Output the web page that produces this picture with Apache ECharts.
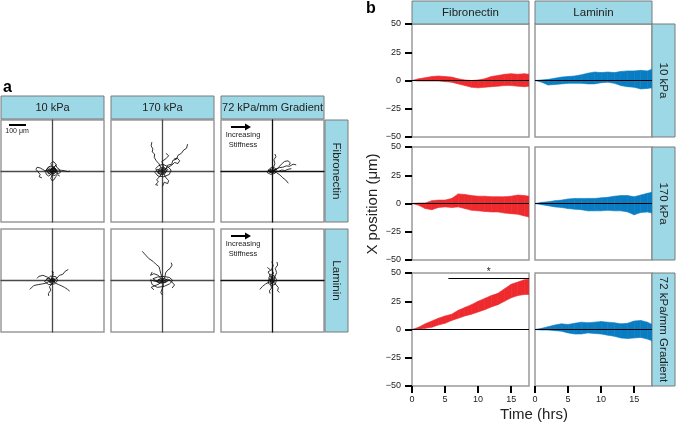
<!DOCTYPE html>
<html>
<head>
<meta charset="utf-8">
<script src="https://cdn.jsdelivr.net/npm/echarts@6.0.0/dist/echarts.min.js"></script>
<style>
  html, body { margin: 0; padding: 0; background: #fff; }
  #chart { width: 676px; height: 426px; }
</style>
</head>
<body>
<div id="chart"></div>
<script>
  // ---- panel a: cell tracks, x/y displacement in µm ----
  const tracksFn10 = [
    [[0,0],[12,8],[-6,15],[-20,5],[-8,-10],[10,-14],[24,-4],[18,12],[0,20],[-14,-2],[4,-6],[30,6],[40,-2],[52,4],[70,2],[90,-4],[102,0]],
    [[0,0],[-16,-4],[-28,6],[-44,2],[-58,10],[-72,18],[-90,22],[-96,10],[-86,-4],[-72,-20],[-78,-34],[-62,-40]],
    [[0,0],[8,18],[-4,30],[-10,44],[2,56],[14,48],[22,36],[10,24]],
    [[0,0],[6,-16],[-4,-28],[-10,-44],[-2,-58],[10,-50],[18,-34],[30,-22],[42,-30]],
    [[0,0],[-20,14],[-30,-2],[-12,-22],[16,-26],[30,-10],[22,10],[6,26],[-18,24],[-34,10],[-24,-16],[0,-6],[20,2],[14,16],[-8,8]],
    [[4,2],[18,-8],[34,-16],[46,-8],[40,10],[26,20],[36,30],[20,36],[4,12],[-8,-18],[-22,-30],[-36,-20],[-40,-4],[-28,20],[-12,30]],
    [[0,0],[10,-8],[18,4],[6,12],[-10,6],[-14,-8],[0,-16],[16,-10],[22,6],[8,18],[-8,14],[-20,0],[-6,-6],[12,0],[4,8],[-4,-2]]
  ];
  const tracksFn170 = [
    [[0,0],[-10,20],[-20,42],[-36,60],[-48,80],[-46,100],[-60,112],[-56,130],[-66,148],[-62,170]],
    [[0,0],[20,12],[30,34],[54,40],[60,62],[82,70],[90,92],[110,104],[124,124],[140,134],[146,158]],
    [[0,0],[30,20],[56,36],[70,50],[90,44],[100,60],[86,76],[66,70]],
    [[0,0],[-6,-20],[-20,-36],[-34,-52],[-24,-64],[-40,-80],[-26,-84]],
    [[0,0],[-30,10],[-44,-8],[-26,-30],[8,-34],[40,-20],[50,6],[30,26],[2,40],[-24,30],[-40,14],[-20,-14],[14,-10],[30,8],[10,20],[-10,6]],
    [[0,0],[20,-40],[36,-56],[30,-74],[10,-66],[0,-90]],
    [[0,0],[6,30],[-4,56],[20,72],[36,90],[20,104]],
    [[0,0],[-16,-8],[-24,8],[-8,20],[14,16],[24,0],[12,-18],[-8,-22],[-28,-12],[-20,4],[0,10],[16,2],[6,-10],[-10,-4]]
  ];
  const tracksFnGrad = [
    [[0,0],[20,10],[40,20],[60,22],[80,30],[100,28],[120,40],[138,36]],
    [[0,0],[24,-10],[44,-24],[60,-40],[76,-52],[92,-72]],
    [[0,0],[6,22],[14,44],[8,66],[20,84],[14,100]],
    [[0,0],[30,16],[52,40],[70,56],[90,60],[104,48],[96,34]],
    [[0,0],[-24,6],[-30,-10],[-10,-20],[14,-14],[26,4],[14,18],[-8,20],[-26,4],[-12,-8],[8,-4],[20,10]],
    [[0,0],[30,-4],[54,6],[72,2],[90,10],[110,14]],
    [[0,0],[-12,8],[-20,-4],[-6,-12],[10,-8],[16,4],[4,12],[-14,10],[-18,-6],[0,-6],[12,2],[2,6]]
  ];
  const tracksLn10 = [
    [[0,0],[-20,-6],[-40,-16],[-60,-20],[-84,-24],[-110,-30],[-132,-52]],
    [[0,0],[18,-16],[36,-24],[50,-30],[70,-40],[88,-52],[100,-62]],
    [[0,0],[22,10],[40,30],[60,36],[74,54],[92,64]],
    [[0,0],[-6,16],[4,34],[-2,54],[8,46]],
    [[0,0],[-4,-20],[-18,-36],[-10,-56],[-24,-76],[-22,-90]],
    [[0,0],[-30,12],[-46,-6],[-22,-24],[12,-20],[30,0],[20,22],[-10,26],[-34,8],[-16,-10],[14,-6],[4,12]],
    [[0,0],[-30,20],[-56,30],[-80,24],[-90,12]],
    [[0,0],[-12,-6],[-8,10],[8,14],[16,0],[6,-14],[-10,-16],[-20,-2],[-4,6],[10,4],[2,-8]]
  ];
  const tracksLn170 = [
    [[0,0],[-4,20],[-10,40],[-16,64],[-20,80],[-40,96],[-56,112],[-80,128],[-100,150],[-118,170]],
    [[0,0],[14,20],[18,44],[30,60],[44,70],[56,90],[50,104]],
    [[0,0],[-40,-6],[-70,4],[-60,-24],[-30,-40],[10,-34],[40,-20],[60,0],[40,18],[0,24],[-30,20],[-56,10],[-20,-12],[20,-10],[44,6]],
    [[0,0],[-20,-20],[-44,-30],[-66,-40],[-50,-54]],
    [[0,0],[6,-24],[0,-44],[-10,-70],[-2,-84]],
    [[0,0],[30,8],[54,-8],[70,-26],[56,-44]],
    [[0,0],[-24,30],[-50,40],[-70,30],[-60,50]],
    [[0,0],[-20,6],[-36,-6],[-16,-16],[14,-12],[30,2],[12,12],[-14,10],[-30,0],[-8,-6],[20,-4],[4,6]]
  ];
  const tracksLnGrad = [
    [[0,0],[-4,24],[6,44],[-6,64],[4,86],[-4,110]],
    [[0,0],[14,22],[24,46],[16,70],[30,90],[26,108]],
    [[0,0],[-10,-24],[-6,-44],[-18,-60],[-14,-76]],
    [[0,0],[-20,-10],[-40,-20],[-58,-34],[-74,-52]],
    [[0,0],[16,-20],[34,-40],[30,-60],[40,-70]],
    [[0,0],[-20,10],[-26,-14],[-6,-30],[16,-22],[24,4],[10,28],[-12,36],[-22,14],[-6,-10],[12,-4]],
    [[0,0],[-14,30],[-26,50],[-10,60],[-30,76]],
    [[0,0],[-10,12],[-4,26],[10,18],[12,0],[4,-16],[-10,-20],[-14,-4],[2,8],[8,-6]]
  ];
  const stiffnessCols = ['10 kPa', '170 kPa', '72 kPa/mm Gradient'];
  const coatingRows = ['Fibronectin', 'Laminin'];

  // ---- panel b: mean X position band (lower / upper, µm) vs time (hrs) ----
  const timeHrs = [0,1,2,3,4,5,6,7,8,9,10,11,12,13,14,15,16,17,17.7];
  const fn10Upper  = [0,1.5,2.5,3.5,4,3.5,3,1.5,0.5,0,0.5,1.5,3.5,4.5,5.5,6,5.5,6,5.5];
  const fn10Lower  = [0,-0.5,-0.5,-0.5,-0.5,-1,-1.5,-3,-4.5,-6,-6.5,-6,-5.5,-5,-4.5,-4.5,-5,-5.5,-5];
  const ln10Upper  = [0,0.5,1,2,3,3.5,4,5,6.5,7.5,7,7.5,7,8,8.5,8.5,9,8.5,10];
  const ln10Lower  = [0,-1.5,-4,-3.5,-3,-2.5,-2.5,-2.5,-3,-3,-2,-1.5,-2.5,-4.5,-5.5,-6,-7.5,-7,-6.5];
  const fn170Upper = [0,0.5,0.5,2.5,3,3,4.5,8.5,8,7,6.5,6.5,6,6,6,6.5,7.5,7,6.5];
  const fn170Lower = [0,-1.5,-4.5,-5.5,-3.5,-3,-3.5,-3,-4.5,-6,-6.5,-7,-7.5,-7.5,-8.5,-9,-9.5,-11,-12];
  const ln170Upper = [0,1,1.5,2.5,3,4,4.5,4.5,4.5,4.5,5,5.5,6.5,7,7,6,7.5,9,10];
  const ln170Lower = [0,-1,-2,-3,-3.5,-4.5,-5,-5.5,-6.5,-6.5,-6.5,-6,-6.5,-6.5,-7.5,-10,-8,-7.5,-8.5];
  const fnGradUpper = [0,2,5,7.5,10,12,13.5,17,19.5,22,25,27.5,30,32,36,40,42,44,44.5];
  const fnGradLower = [0,0,1,2,4,5.5,8,10,12,13.5,15.5,17.5,20,22,25,28,30,31,31];
  const lnGradUpper = [0,1,2.5,4,5,4.5,5.5,6.5,6,6.5,7,6.5,6,5,5.5,7.5,8,6.5,4.5];
  const lnGradLower = [0,-0.5,-0.5,-1,-1.5,-3,-4,-4,-3,-3.5,-4,-5,-6,-7.5,-8,-7.5,-7,-8.5,-10];
  const bandRows = ['10 kPa', '170 kPa', '72 kPa/mm Gradient'];
  const bandCols = ['Fibronectin', 'Laminin'];
  const yTicks = [-50, -25, 0, 25, 50];
  const xTicks = [0, 5, 10, 15];
  const sigBar = [5.5, 17.7, 45];   // from, to (hrs), at X position

  const FONT = "'Liberation Sans', Arial, Helvetica, sans-serif";
  const STRIP = '#9DD8E6';
  const colRed = '#EE2A2E', colBlue = '#0A7DC2';

  const grids = [], xAxes = [], yAxes = [], series = [], graphics = [];

  function stripRect(x, y, w, h) {
    graphics.push({ type: 'rect', shape: { x: x, y: y, width: w, height: h },
      style: { fill: STRIP, stroke: '#7a7a7a', lineWidth: 1 }, silent: true });
  }
  function label(text, x, y, opts) {
    opts = opts || {};
    graphics.push({ type: 'text', x: x, y: y, rotation: opts.rot || 0, silent: true,
      style: { text: text, fill: opts.color || '#222',
        font: (opts.weight || 'normal') + ' ' + (opts.size || 11) + 'px ' + FONT,
        align: opts.align || 'center', verticalAlign: 'middle',
        textAlign: opts.align || 'center', textVerticalAlign: 'middle' } });
  }

  // ---- panel a ----
  const aTracks = [[tracksFn10, tracksFn170, tracksFnGrad], [tracksLn10, tracksLn170, tracksLnGrad]];
  const aLeft = [1, 111, 221], aTop = [120, 229], aH = [102, 103], aW = 103;
  aTracks.forEach((row, r) => {
    row.forEach((tracks, c) => {
      const i = grids.length;
      grids.push({ left: aLeft[c], top: aTop[r], width: aW, height: aH[r], show: true,
        borderColor: '#9a9a9a', borderWidth: 1.5, backgroundColor: '#fff', outerBoundsMode: 'none' });
      const cross = { show: true, onZero: true, lineStyle: { color: c === 2 ? '#111' : '#4a4a4a', width: 1.3 } };
      xAxes.push({ gridIndex: i, type: 'value', min: -300, max: 300, axisLine: cross,
        axisTick: { show: false }, axisLabel: { show: false }, splitLine: { show: false } });
      yAxes.push({ gridIndex: i, type: 'value', min: -300, max: 300, axisLine: cross,
        axisTick: { show: false }, axisLabel: { show: false }, splitLine: { show: false } });
      tracks.forEach(tr => {
        series.push({ type: 'line', xAxisIndex: i, yAxisIndex: i, data: tr, showSymbol: false,
          silent: true, lineStyle: { color: '#111', width: 0.85 }, z: 3 });
      });
    });
  });
  stiffnessCols.forEach((t, c) => {
    stripRect(aLeft[c], 96, aW, 23);
    label(t, aLeft[c] + aW / 2, 108, { size: 11 });
  });
  coatingRows.forEach((t, r) => {
    stripRect(325, aTop[r], 23, aH[r]);
    label(t, 336.5, aTop[r] + aH[r] / 2, { size: 11.5, rot: -Math.PI / 2 });
  });
  label('a', 3, 88, { size: 16, weight: 'bold', align: 'left', color: '#000' });
  // scale bar
  graphics.push({ type: 'line', shape: { x1: 9, y1: 125, x2: 26, y2: 125 }, style: { stroke: '#000', lineWidth: 2 }, silent: true });
  label('100 \u03bcm', 17, 131.5, { size: 7 });
  // gradient direction arrows
  [[127, 135, 145], [236, 244, 254]].forEach(p => {
    graphics.push({ type: 'line', shape: { x1: 231, y1: p[0], x2: 246, y2: p[0] }, style: { stroke: '#000', lineWidth: 2 }, silent: true });
    graphics.push({ type: 'polygon', shape: { points: [[251, p[0]], [245, p[0] - 3.5], [245, p[0] + 3.5]] }, style: { fill: '#000' }, silent: true });
    label('Increasing', 243, p[1], { size: 7.5 });
    label('Stiffness', 243, p[2], { size: 7.5 });
  });

  // ---- panel b ----
  const bBands = [
    [[fn10Lower, fn10Upper], [ln10Lower, ln10Upper]],
    [[fn170Lower, fn170Upper], [ln170Lower, ln170Upper]],
    [[fnGradLower, fnGradUpper], [lnGradLower, lnGradUpper]]
  ];
  const bLeft = [412, 535], bTop = [24, 147, 273], bW = 117, bH = 113;
  const minus = v => (v < 0 ? '\u2212' + Math.abs(v) : String(v));
  bBands.forEach((row, r) => {
    row.forEach((band, c) => {
      const i = grids.length;
      const bottom = r === 2;
      grids.push({ left: bLeft[c], top: bTop[r], width: bW, height: bH, show: true,
        borderColor: '#9a9a9a', borderWidth: 1.5, backgroundColor: '#fff', outerBoundsMode: 'none' });
      xAxes.push({ gridIndex: i, type: 'value', min: 0, max: 17.7, position: 'bottom',
        axisLine: { show: false, onZero: false },
        axisTick: { show: bottom, length: 7, inside: false, customValues: xTicks, lineStyle: { color: '#000', width: 2 } },
        axisLabel: { show: bottom, customValues: xTicks, margin: 9, fontSize: 9, color: '#222', fontFamily: FONT },
        splitLine: { show: false } });
      yAxes.push({ gridIndex: i, type: 'value', min: -50, max: 50, interval: 25,
        axisLine: { show: false, onZero: false },
        axisTick: { show: c === 0, length: 7, customValues: yTicks, lineStyle: { color: '#000', width: 2 } },
        axisLabel: { show: c === 0, customValues: yTicks, formatter: minus, margin: 11, fontSize: 9, color: '#222', fontFamily: FONT },
        splitLine: { show: false } });
      const color = c === 0 ? colRed : colBlue;
      const lower = band[0], upper = band[1];
      // ribbon between lower and upper, one quad per time step
      const quads = [];
      for (let k = 0; k < timeHrs.length - 1; k++) {
        quads.push([timeHrs[k], lower[k], upper[k], timeHrs[k + 1], lower[k + 1], upper[k + 1]]);
      }
      series.push({ type: 'custom', xAxisIndex: i, yAxisIndex: i, data: quads, silent: true, clip: true, z: 2,
        encode: { x: [0, 3], y: [1, 2, 4, 5] },
        renderItem: (params, api) => ({
          type: 'polygon',
          shape: { points: [
            api.coord([api.value(0), api.value(1)]), api.coord([api.value(3), api.value(4)]),
            api.coord([api.value(3), api.value(5)]), api.coord([api.value(0), api.value(2)]) ] },
          style: { fill: color, stroke: color, lineWidth: 0.6 }
        }) });
      // zero reference line (and significance bar) carried by an invisible line series
      const markData = [{ yAxis: 0 }];
      if (r === 2 && c === 0) {
        markData.push([{ coord: [sigBar[0], sigBar[2]], label: { show: true, formatter: '*', position: 'middle', color: '#222', fontSize: 10, distance: 1 } },
                       { coord: [sigBar[1], sigBar[2]] }]);
      }
      series.push({ type: 'line', xAxisIndex: i, yAxisIndex: i, z: 5,
        data: timeHrs.map((t, k) => [t, lower[k]]), showSymbol: false, silent: true,
        lineStyle: { opacity: 0 },
        markLine: { silent: true, symbol: 'none', animation: false, label: { show: false },
          lineStyle: { color: '#000', width: 1.2, type: 'solid' }, data: markData } });
    });
  });
  bandCols.forEach((t, c) => {
    stripRect(bLeft[c], 1, bW, 23);
    label(t, bLeft[c] + bW / 2, 12.5, { size: 11.5 });
  });
  bandRows.forEach((t, r) => {
    stripRect(652, bTop[r], 23, bH);
    label(t, 663.5, bTop[r] + bH / 2, { size: 11.5, rot: -Math.PI / 2 });
  });
  label('b', 366, 9, { size: 16, weight: 'bold', align: 'left', color: '#000' });
  label('X position (\u03bcm)', 373, 204, { size: 15, rot: Math.PI / 2 });
  label('Time (hrs)', 534, 415, { size: 15 });

  const chart = echarts.init(document.getElementById('chart'), null, { renderer: 'canvas' });
  chart.setOption({
    animation: false,
    backgroundColor: '#fff',
    grid: grids,
    xAxis: xAxes,
    yAxis: yAxes,
    series: series,
    graphic: { elements: graphics }
  });
</script>
</body>
</html>
